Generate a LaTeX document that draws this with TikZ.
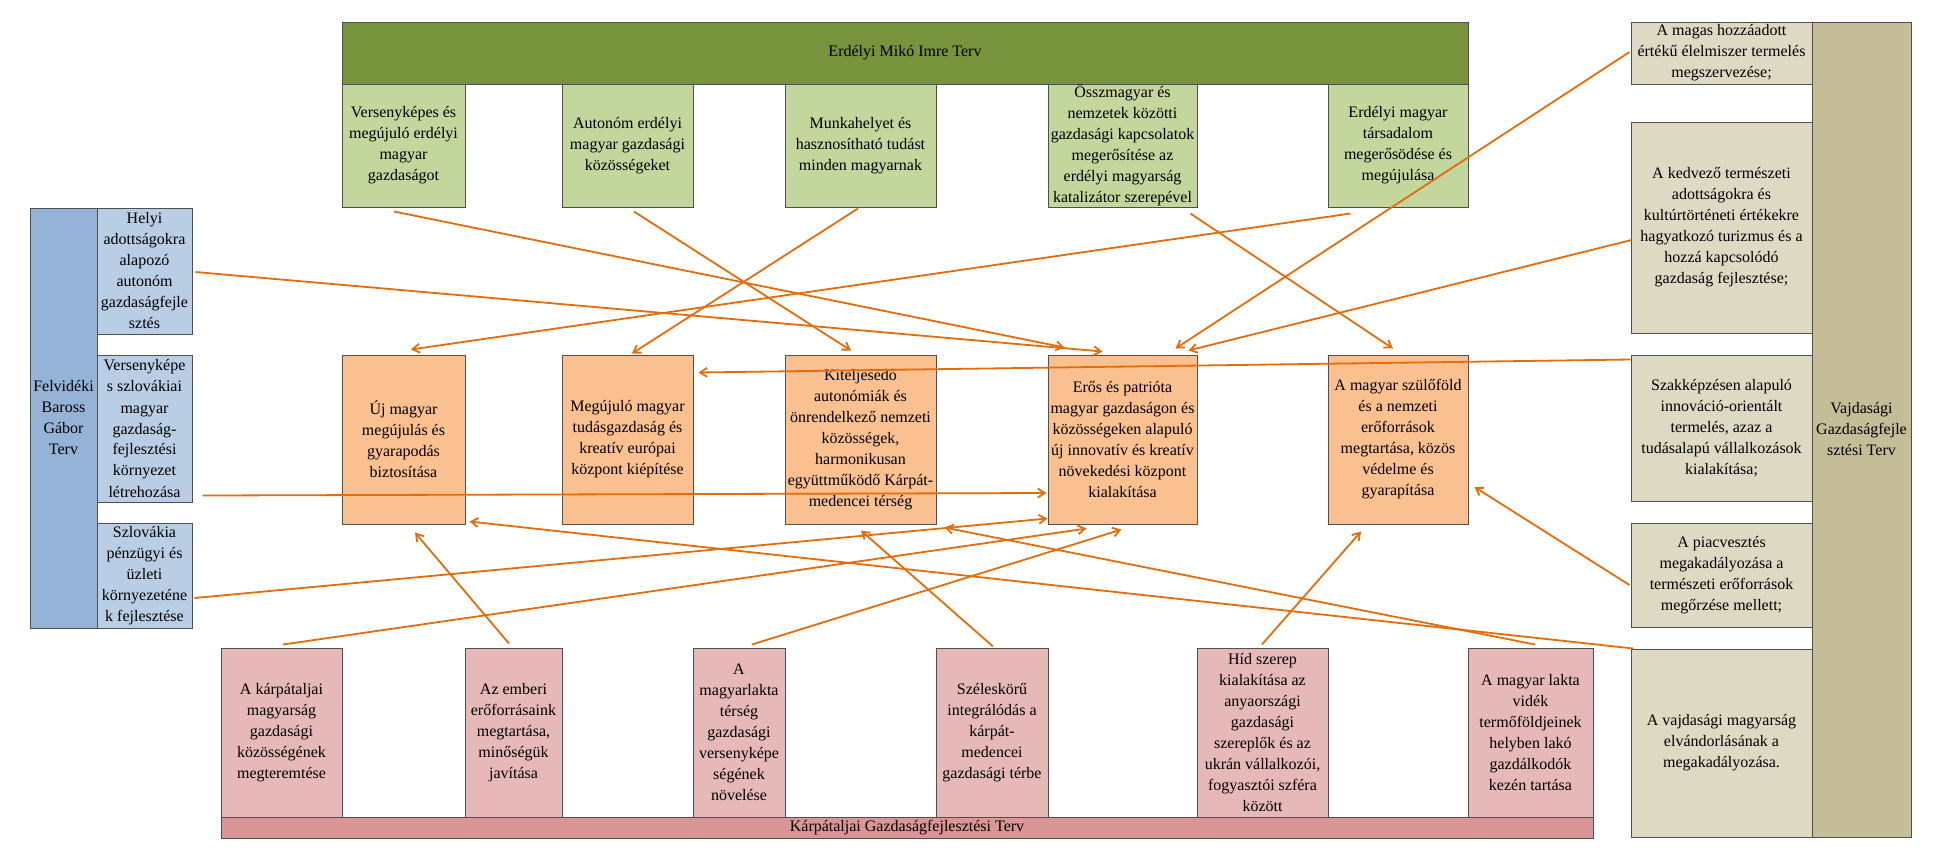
\documentclass[tikz,border=0pt]{standalone}
\usepackage{fontspec}
\setmainfont{Liberation Serif}
\usetikzlibrary{arrows.meta,calc}
\definecolor{grdark}{HTML}{77933C}
\definecolor{grlight}{HTML}{C3D69B}
\definecolor{orfill}{HTML}{FAC090}
\definecolor{pkfill}{HTML}{E6B9B8}
\definecolor{pkbarc}{HTML}{D99694}
\definecolor{bldark}{HTML}{95B3D7}
\definecolor{bllight}{HTML}{B9CDE5}
\definecolor{tndark}{HTML}{C4BD97}
\definecolor{tnlight}{HTML}{DDD9C3}
\definecolor{arrowc}{HTML}{E46C0A}
\definecolor{bordc}{HTML}{505050}
\tikzset{
  box/.style={draw=bordc, line width=0.5pt, inner sep=0pt, align=center,
    font=\fontsize{8}{10.5}\selectfont, text=black},
  grh/.style={box, fill=grdark},
  grl/.style={box, fill=grlight},
  orb/.style={box, fill=orfill},
  pkb/.style={box, fill=pkfill},
  pkbar/.style={box, fill=pkbarc},
  blb/.style={box, fill=bldark},
  bls/.style={box, fill=bllight},
  tnb/.style={box, fill=tndark},
  tns/.style={box, fill=tnlight},
  link/.style={draw=arrowc, line width=0.9pt, -{Straight Barb[length=3.5pt,width=4.5pt]}},
}
\newcommand\bx[7]{%
  \node[#6, minimum width={(#4-#2)*0.5pt}, minimum height={(#5-#3)*0.5pt}] (#1) at ({(#2+#4)/2},{(#3+#5)/2}) {#7};}
\begin{document}
\begin{tikzpicture}[x=0.5pt,y=-0.5pt]
\useasboundingbox (0,0) rectangle (1944,859);
\fill[white] (0,0) rectangle (1944,859);
% Erdélyi (green)
\bx{gh}{342}{22}{1468}{84}{grh}{Erdélyi Mikó Imre Terv}
\bx{g1}{342}{84}{465}{207}{grl}{Versenyképes és\\megújuló erdélyi\\magyar\\gazdaságot}
\bx{g2}{562}{84}{693}{207}{grl}{Autonóm erdélyi\\magyar gazdasági\\közösségeket}
\bx{g3}{785}{84}{936}{207}{grl}{Munkahelyet és\\hasznosítható tudást\\minden magyarnak}
\bx{g4}{1048}{84}{1197}{207}{grl}{Összmagyar és\\nemzetek közötti\\gazdasági kapcsolatok\\megerősítése az\\erdélyi magyarság\\katalizátor szerepével}
\bx{g5}{1328}{84}{1468}{207}{grl}{Erdélyi magyar\\társadalom\\megerősödése és\\megújulása}
% orange centre row
\bx{o1}{342}{355}{465}{524}{orb}{Új magyar\\megújulás és\\gyarapodás\\biztosítása}
\bx{o2}{562}{355}{693}{524}{orb}{Megújuló magyar\\tudásgazdaság és\\kreatív európai\\központ kiépítése}
\bx{o3}{785}{355}{936}{524}{orb}{Kiteljesedő\\autonómiák és\\önrendelkező nemzeti\\közösségek,\\harmonikusan\\együttműködő Kárpát-\\medencei térség}
\bx{o4}{1048}{355}{1197}{524}{orb}{Erős és patrióta\\magyar gazdaságon és\\közösségeken alapuló\\új innovatív és kreatív\\növekedési központ\\kialakítása}
\bx{o5}{1328}{355}{1468}{524}{orb}{A magyar szülőföld\\és a nemzeti\\erőforrások\\megtartása, közös\\védelme és\\gyarapítása}
% Kárpátalja (pink)
\bx{p1}{221}{648}{342}{817}{pkb}{A kárpátaljai\\magyarság\\gazdasági\\közösségének\\megteremtése}
\bx{p2}{465}{648}{562}{817}{pkb}{Az emberi\\erőforrásaink\\megtartása,\\minőségük\\javítása}
\bx{p3}{693}{648}{785}{817}{pkb}{A\\magyarlakta\\térség\\gazdasági\\versenyképe\\ségének\\növelése}
\bx{p4}{936}{648}{1048}{817}{pkb}{Széleskörű\\integrálódás a\\kárpát-\\medencei\\gazdasági térbe}
\bx{p5}{1197}{648}{1328}{817}{pkb}{Híd szerep\\kialakítása az\\anyaországi\\gazdasági\\szereplők és az\\ukrán vállalkozói,\\fogyasztói szféra\\között}
\bx{p6}{1468}{648}{1593}{817}{pkb}{A magyar lakta\\vidék\\termőföldjeinek\\helyben lakó\\gazdálkodók\\kezén tartása}
\bx{pb}{221}{817}{1593}{838}{pkbar}{Kárpátaljai Gazdaságfejlesztési Terv}
% Felvidék (blue)
\bx{bb}{30}{208}{97}{628}{blb}{Felvidéki\\Baross\\Gábor\\Terv}
\bx{b1}{97}{208}{192}{334}{bls}{Helyi\\adottságokra\\alapozó\\autonóm\\gazdaságfejle\\sztés}
\bx{b2}{97}{355}{192}{502}{bls}{Versenyképe\\s szlovákiai\\magyar\\gazdaság-\\fejlesztési\\környezet\\létrehozása}
\bx{b3}{97}{523}{192}{628}{bls}{Szlovákia\\pénzügyi és\\üzleti\\környezeténe\\k fejlesztése}
% Vajdaság (tan)
\bx{tb}{1812}{22}{1911}{837}{tnb}{Vajdasági\\Gazdaságfejle\\sztési Terv}
\bx{t1}{1631}{22}{1812}{84}{tns}{A magas hozzáadott\\értékű élelmiszer termelés\\megszervezése;}
\bx{t2}{1631}{122}{1812}{333}{tns}{A kedvező természeti\\adottságokra és\\kultúrtörténeti értékekre\\hagyatkozó turizmus és a\\hozzá kapcsolódó\\gazdaság fejlesztése;}
\bx{t3}{1631}{355}{1812}{501}{tns}{Szakképzésen alapuló\\innováció-orientált\\termelés, azaz a\\tudásalapú vállalkozások\\kialakítása;}
\bx{t4}{1631}{523}{1812}{627}{tns}{A piacvesztés\\megakadályozása a\\természeti erőforrások\\megőrzése mellett;}
\bx{t5}{1631}{649}{1812}{837}{tns}{A vajdasági magyarság\\elvándorlásának a\\megakadályozása.}
% connectors
\draw[link] ($(g1.south)+(-9.5,4)$) -- ($(o4.north west)+(17,-7)$);
\draw[link] ($(b1.east)+(3,1)$) -- ($(o4.north west)+(55,-3)$);
\draw[link] ($(g2.south)+(6.5,4)$) -- ($(o3.north)+(-9.5,-4)$);
\draw[link] ($(g3.south)+(-2.5,1)$) -- ($(o2.north)+(4.5,-1)$);
\draw[link] ($(g4.south east)+(-7,6)$) -- ($(o5.north)+(-5,-6)$);
\draw[link] ($(t1.west)+(-1,-1)$) -- ($(o4.north east)+(-22,-6)$);
\draw[link] ($(t2.west)+(1,12.5)$) -- ($(o4.north east)+(-9,-4)$);
\draw[link] ($(g5.south west)+(23,6)$) -- ($(o1.north)+(7.5,-5)$);
\draw[link] ($(t3.north west)+(0,5)$) -- ($(o2.north east)+(5,18)$);
\draw[link] ($(b2.south east)+(10,-7)$) -- ($(o4.west)+(-1,53.5)$);
\draw[link] ($(b3.east)+(2,22.5)$) -- ($(o4.south west)+(0,-6)$);
\draw[link] ($(p1.north)+(1.5,-3)$) -- ($(o4.south west)+(39,4)$);
\draw[link] ($(p2.north)+(-4.5,-4)$) -- ($(o1.south)+(11.5,8)$);
\draw[link] ($(p3.north)+(13,-3)$) -- ($(o4.south west)+(74,5)$);
\draw[link] ($(p4.north)+(1,-1)$) -- ($(o3.south)+(0.5,6)$);
\draw[link] ($(p5.north)+(-0.5,-3)$) -- ($(o5.south)+(-37,7)$);
\draw[link] ($(p6.north)+(4.5,-3)$) -- ($(o3.south east)+(8,3)$);
\draw[link] ($(t5.north west)+(3,0)$) -- ($(o1.south east)+(4,-3)$);
\draw[link] ($(t4.west)+(-1,10)$) -- ($(o5.east)+(6,47.5)$);
\end{tikzpicture}
\end{document}
